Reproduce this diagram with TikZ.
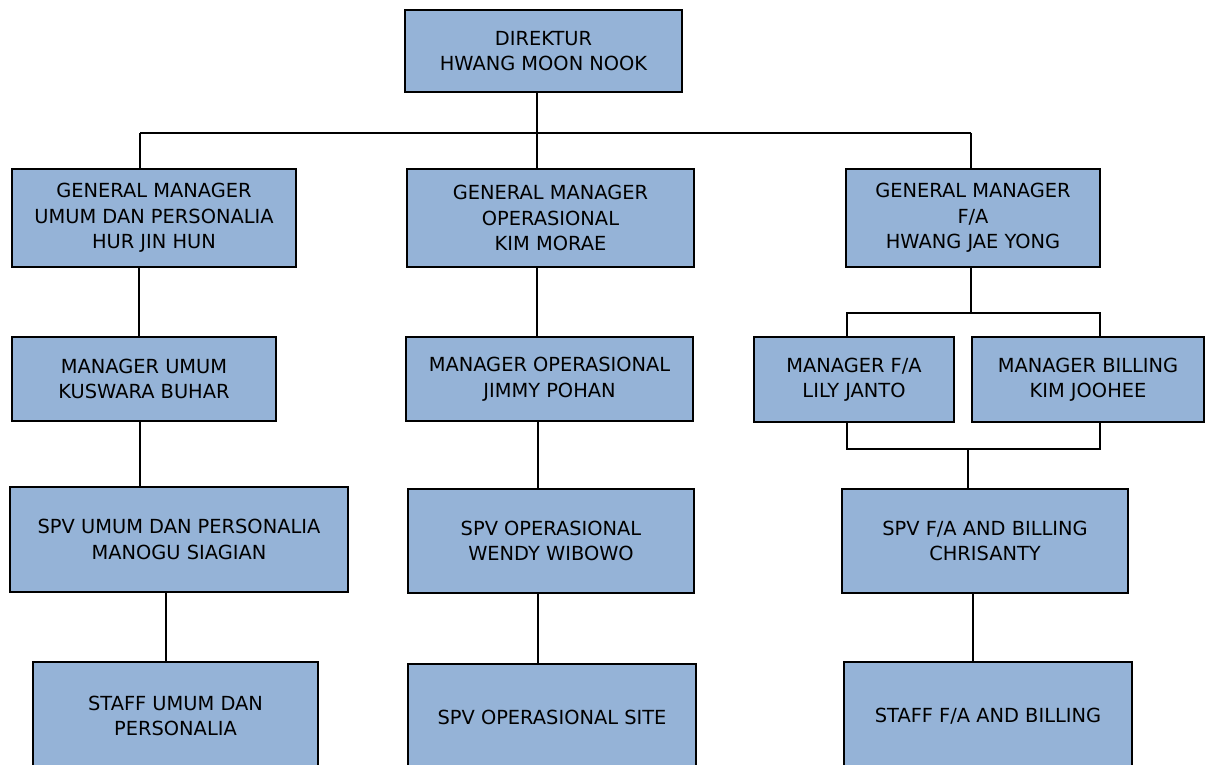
\documentclass[tikz,border=0pt]{standalone}
\usepackage{fontspec}
\setmainfont{DejaVu Sans}
\definecolor{boxblue}{HTML}{95B3D7}
\begin{document}
\begin{tikzpicture}[x=1pt,y=-1pt,
  box/.style={draw=black, line width=1.6pt, fill=boxblue, align=center, inner sep=0pt,
    font=\fontsize{19.4}{25.5}\selectfont},
  conn/.style={draw=black, line width=1.3pt}]
\clip (0,0) rectangle (1212,765);
\fill[white] (0,0) rectangle (1212,765);
% boxes
\node[box, minimum width=277, minimum height=82] (dir) at (543.5,51) {DIREKTUR\\HWANG MOON NOOK};
\node[box, minimum width=284, minimum height=98] (gmu) at (154,218) {GENERAL MANAGER\\UMUM DAN PERSONALIA\\HUR JIN HUN};
\node[box, minimum width=287, minimum height=98] (gmo) at (550.5,218) {GENERAL MANAGER\\OPERASIONAL\\KIM MORAE};
\node[box, minimum width=254, minimum height=98] (gmf) at (973,218) {GENERAL MANAGER\\F/A\\HWANG JAE YONG};
\node[box, minimum width=264, minimum height=84] (mu) at (144,379) {MANAGER UMUM\\KUSWARA BUHAR};
\node[box, minimum width=287, minimum height=84] (mo) at (549.5,379) {MANAGER OPERASIONAL\\JIMMY POHAN};
\node[box, minimum width=200, minimum height=85] (mfa) at (854,379.5) {MANAGER F/A\\LILY JANTO};
\node[box, minimum width=232, minimum height=85] (mb) at (1088,379.5) {MANAGER BILLING\\KIM JOOHEE};
\node[box, minimum width=338, minimum height=105] (su) at (179,539.5) {SPV UMUM DAN PERSONALIA\\MANOGU SIAGIAN};
\node[box, minimum width=286, minimum height=104] (so) at (551,541) {SPV OPERASIONAL\\WENDY WIBOWO};
\node[box, minimum width=286, minimum height=104] (sf) at (985,541) {SPV F/A AND BILLING\\CHRISANTY};
\node[box, minimum width=285, minimum height=108] (stu) at (175.5,716) {STAFF UMUM DAN\\PERSONALIA};
\node[box, minimum width=288, minimum height=106] (sos) at (552,717) {SPV OPERASIONAL SITE};
\node[box, minimum width=288, minimum height=108] (stf) at (988,716) {STAFF F/A AND BILLING};
% bus coordinates
\coordinate (busL) at (140,133);
\coordinate (busM) at (537,133);
\coordinate (busR) at (971,133);
\coordinate (xu1) at (139,300);
\coordinate (xu2) at (140,450);
\coordinate (xu3) at (166,620);
\coordinate (xo1) at (537,300);
\coordinate (xo2) at (538,450);
\coordinate (xo3) at (538,620);
\coordinate (fTop) at (971,313);
\coordinate (fL) at (847,313);
\coordinate (fR) at (1100,313);
\coordinate (gL) at (847,449);
\coordinate (gR) at (1100,449);
\coordinate (gM) at (968,449);
\coordinate (xf3) at (973,620);
% connectors
\draw[conn] (dir.south -| busM) -- (busM);
\draw[conn] (busL) -- (busR);
\draw[conn] (busL) -- (busL |- gmu.north);
\draw[conn] (busM) -- (busM |- gmo.north);
\draw[conn] (busR) -- (busR |- gmf.north);
\draw[conn] (gmu.south -| xu1) -- (mu.north -| xu1);
\draw[conn] (mu.south -| xu2) -- (su.north -| xu2);
\draw[conn] (su.south -| xu3) -- (stu.north -| xu3);
\draw[conn] (gmo.south -| xo1) -- (mo.north -| xo1);
\draw[conn] (mo.south -| xo2) -- (so.north -| xo2);
\draw[conn] (so.south -| xo3) -- (sos.north -| xo3);
\draw[conn] (gmf.south -| fTop) -- (fTop);
\draw[conn] (mfa.north -| fL) -- (fL) -- (fR) -- (mb.north -| fR);
\draw[conn] (mfa.south -| gL) -- (gL) -- (gR) -- (mb.south -| gR);
\draw[conn] (gM) -- (sf.north -| gM);
\draw[conn] (sf.south -| xf3) -- (stf.north -| xf3);
\end{tikzpicture}
\end{document}
